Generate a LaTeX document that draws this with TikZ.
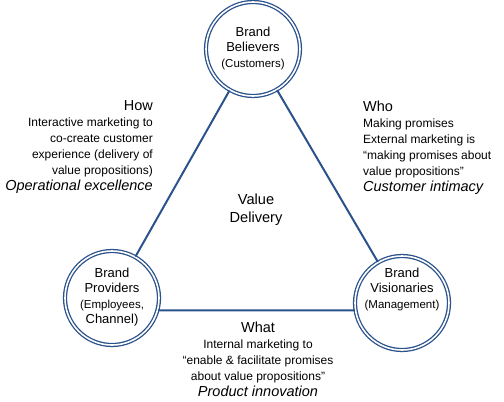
\documentclass[tikz,border=0pt]{standalone}
\usepackage{fontspec}
\setmainfont{Liberation Sans}
\usetikzlibrary{positioning}
\definecolor{brandblue}{RGB}{42,82,140}

\begin{document}
\begin{tikzpicture}[x=1pt, y=-1pt,
    brandring/.style={circle, draw=brandblue, line width=1.3pt, double=white, double distance=1.6pt, minimum size=94pt, inner sep=0pt},
    ringtext/.style={align=center, inner sep=0pt, font=\fontsize{13}{15.5}\selectfont},
    sidetext/.style={inner sep=0pt, font=\fontsize{12}{16}\selectfont},
    link/.style={draw=brandblue, line width=2pt}]
    \useasboundingbox (0,0) rectangle (504,402);

    \node (believers) [brandring] at (253,49) {};
    \node (providers) [brandring] at (112,298) {};
    \node (visionaries) [brandring] at (402,303) {};

    \node (believerstext) [ringtext, anchor=north] at (253,26.5) {Brand\\Believers\\\fontsize{11.5}{14}\selectfont (Customers)};
    \node (providerstext) [ringtext, anchor=north] at (112,267.5) {Brand\\Providers\\\fontsize{11.5}{14}\selectfont (Employees,\\Channel)};
    \node (visionariestext) [ringtext, anchor=north] at (402,267.5) {Brand\\Visionaries\\\fontsize{11.5}{14}\selectfont (Management)};

    \node (value) [inner sep=0pt, align=center, anchor=north, font=\fontsize{14.6}{18}\selectfont] at (256,193.5) {Value\\Delivery};

    \node (how) [sidetext, anchor=north east, align=right] at (153,100.6) {{\fontsize{14.5}{16}\selectfont How}\\Interactive marketing to\\co-create customer\\experience (delivery of\\value propositions)\\{\fontsize{14.5}{16}\selectfont\itshape Operational excellence}};
    \node (who) [sidetext, anchor=north west, align=left] at (363,100.6) {{\fontsize{14.5}{16}\selectfont Who}\\Making promises\\External marketing is\\“making promises about\\value propositions”\\{\fontsize{14.5}{16}\selectfont\itshape Customer intimacy}};
    \node (what) [sidetext, anchor=north, align=center] at (258,321.6) {{\fontsize{14.5}{16}\selectfont What}\\Internal marketing to\\“enable \& facilitate promises\\about value propositions”\\{\fontsize{14.5}{16}\selectfont\itshape Product innovation}};

    \draw [link] (believers) -- (providers);
    \draw [link] (believers) -- (visionaries);
    \draw [link] (providers.-15) -- (visionaries.189);
\end{tikzpicture}
\end{document}
